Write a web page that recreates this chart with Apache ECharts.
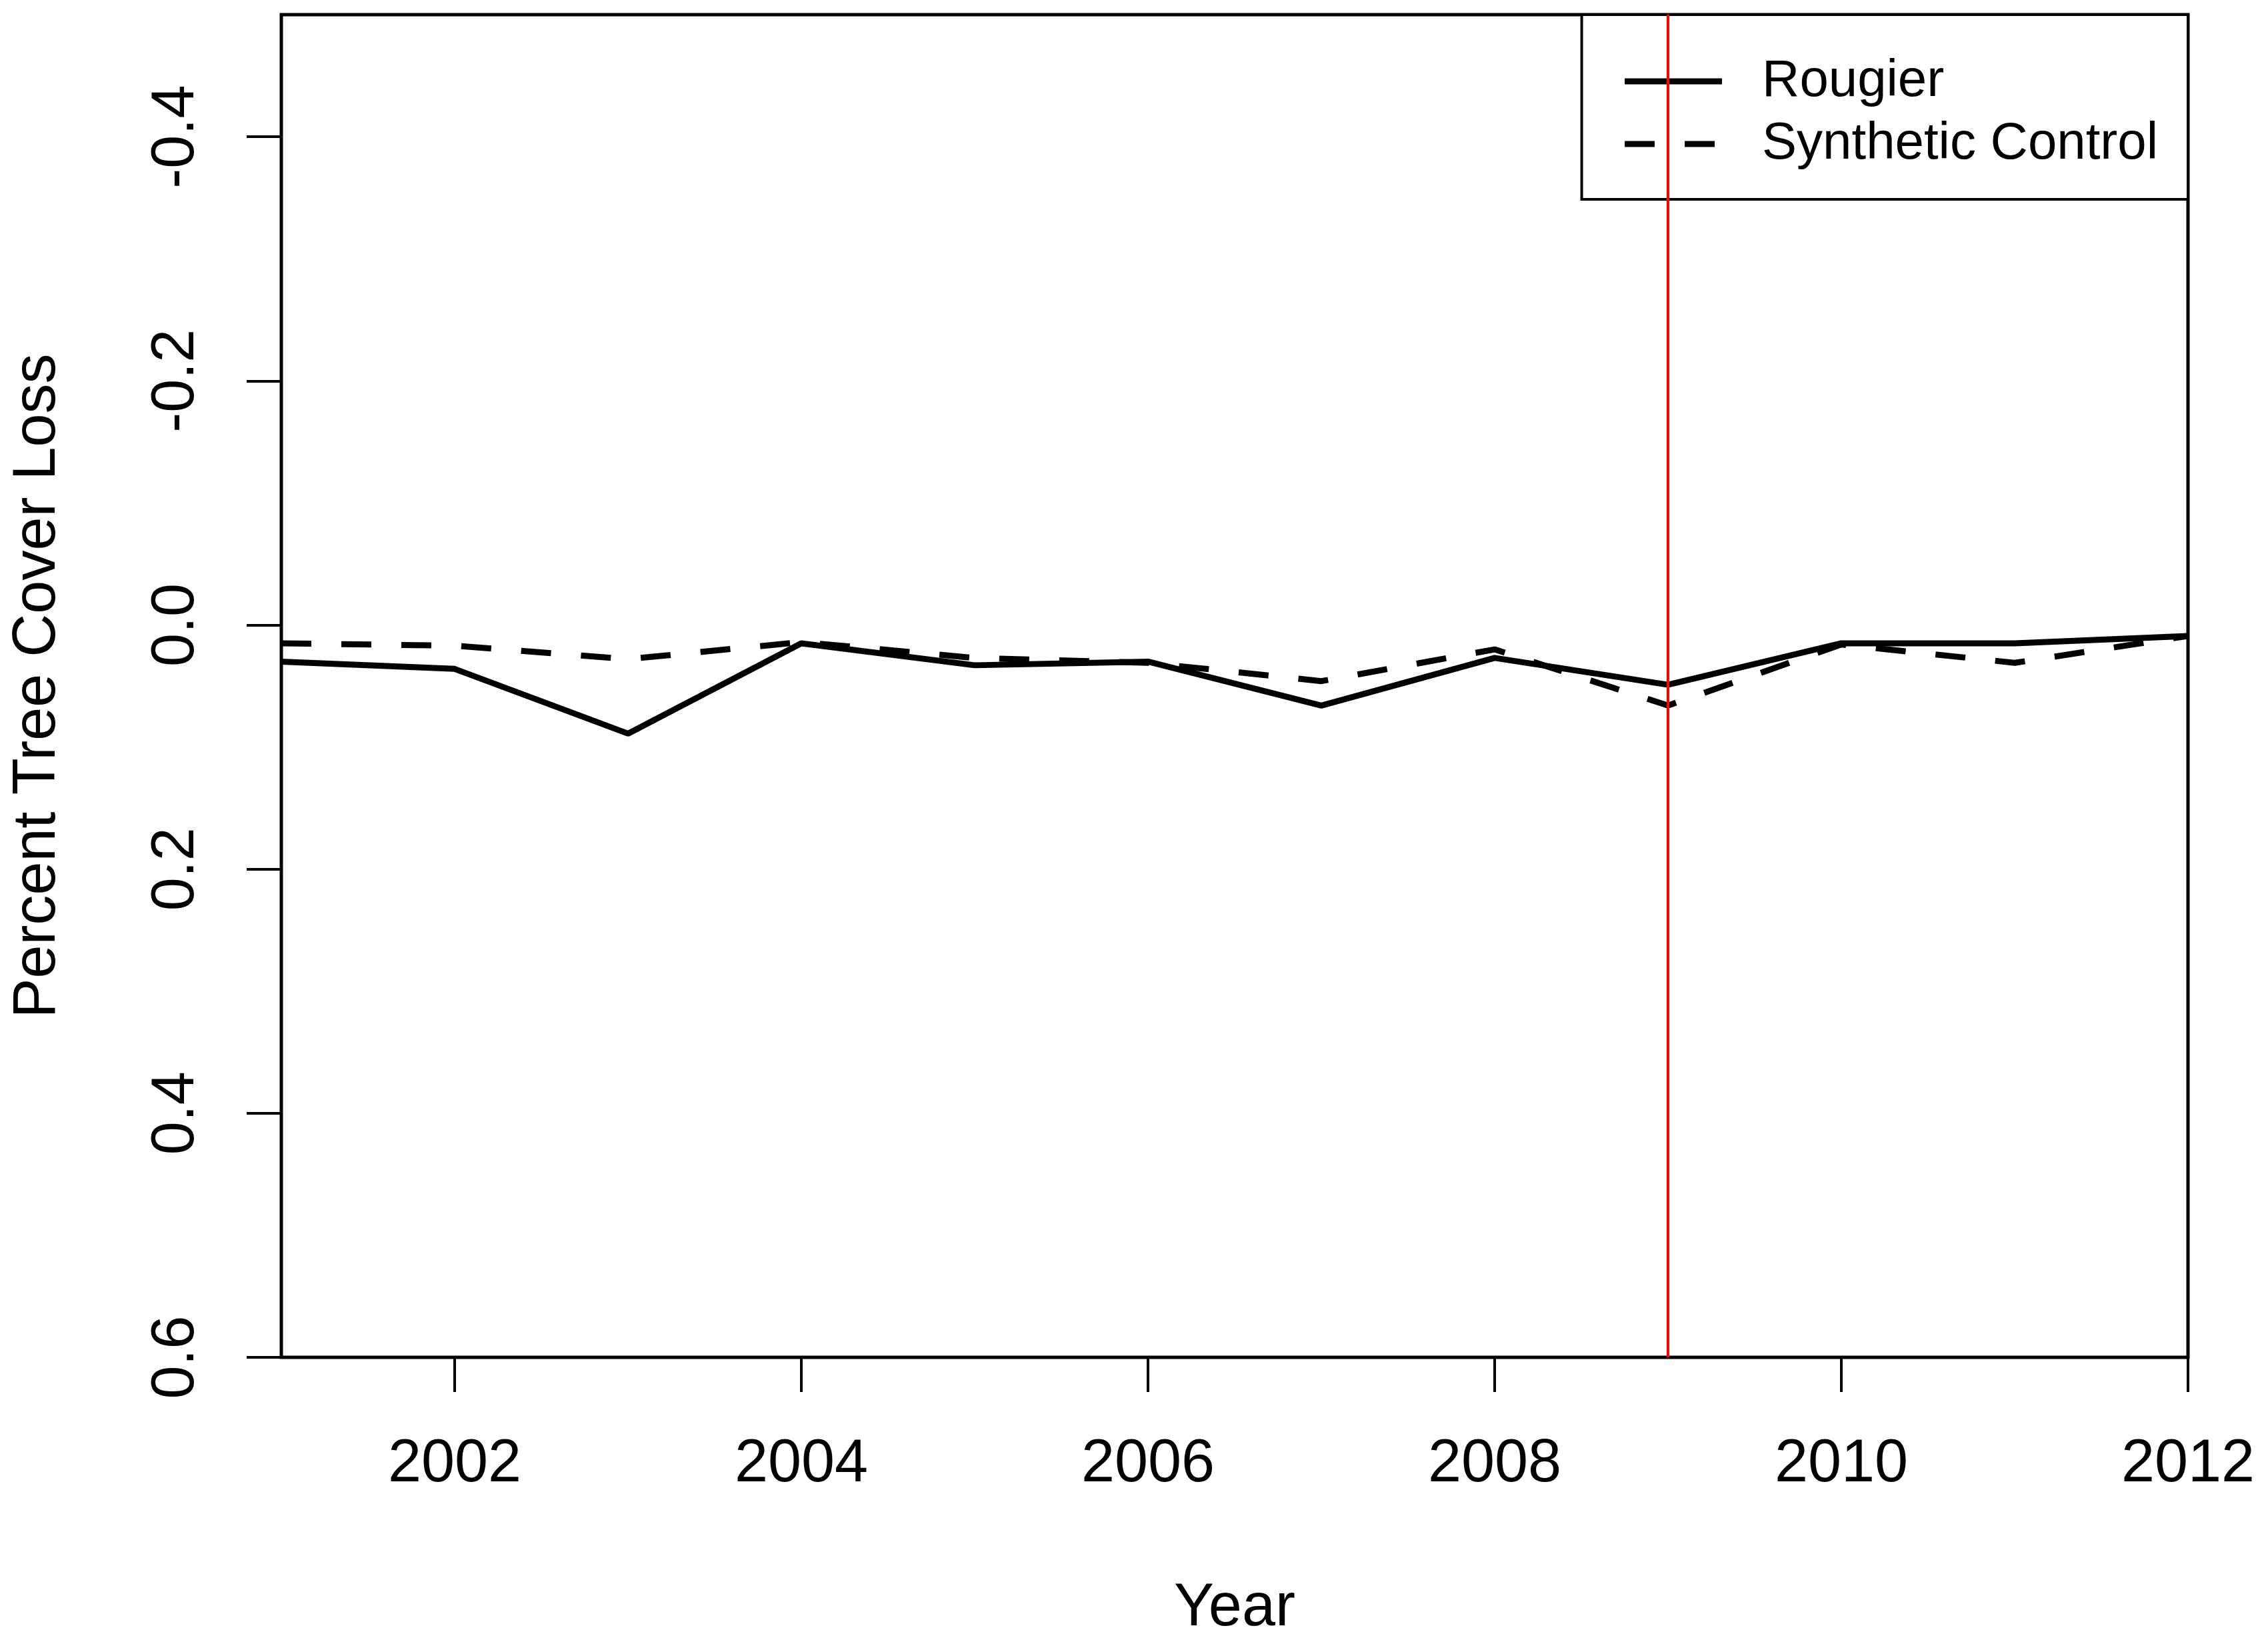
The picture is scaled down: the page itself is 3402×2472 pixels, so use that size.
<!DOCTYPE html>
<html>
<head>
<meta charset="utf-8">
<title>Percent Tree Cover Loss</title>
<script src="https://cdn.jsdelivr.net/npm/echarts@6/dist/echarts.min.js"></script>
<style>
  html, body { margin: 0; padding: 0; background: #fff; }
  #main { width: 3402px; height: 2472px; }
</style>
</head>
<body>
<div id="main"></div>
<script>
// values
var years = [2001, 2002, 2003, 2004, 2005, 2006, 2007, 2008, 2009, 2010, 2011, 2012];
var rougier = [0.030, 0.036, 0.089, 0.015, 0.033, 0.030, 0.066, 0.027, 0.049, 0.015, 0.015, 0.009];
var synthetic = [0.015, 0.017, 0.028, 0.014, 0.027, 0.031, 0.046, 0.020, 0.066, 0.016, 0.031, 0.009];
var xTicks = [2002, 2004, 2006, 2008, 2010, 2012];
var yTicks = [-0.4, -0.2, 0.0, 0.2, 0.4, 0.6];
var yTickLabels = ['-0.4', '-0.2', '0.0', '0.2', '0.4', '0.6'];
var treatYear = 2009;

var font = "'Liberation Sans', Arial, sans-serif";

function pairs(vals) {
  var out = [];
  for (var i = 0; i < years.length; i++) {
    out.push([years[i], vals[i]]);
  }
  return out;
}

var chart = echarts.init(document.getElementById('main'), null, { renderer: 'canvas' });

var option = {
  animation: false,
  backgroundColor: '#ffffff',
  grid: {
    left: 422,
    right: 120,
    top: 22,
    bottom: 436,
    show: true,
    borderColor: '#000',
    borderWidth: 5,
    backgroundColor: 'transparent'
  },
  legend: {
    data: ['Rougier', 'Synthetic Control'],
    orient: 'vertical',
    right: 120,
    top: 22,
    backgroundColor: '#fff',
    borderColor: '#000',
    borderWidth: 4,
    borderRadius: 0,
    padding: [53, 45, 36, 60],
    itemWidth: 146,
    itemHeight: 94,
    itemGap: 0,
    itemStyle: { opacity: 0 },
    lineStyle: { width: 9, type: 'inherit' },
    textStyle: {
      fontFamily: font,
      fontSize: 78,
      color: '#000',
      lineHeight: 94,
      padding: [0, 0, 0, 55]
    }
  },
  xAxis: {
    type: 'value',
    min: 2001,
    max: 2012,
    name: 'Year',
    nameLocation: 'middle',
    nameGap: 332,
    nameTextStyle: { fontFamily: font, fontSize: 90, color: '#000' },
    axisLine: { show: false, onZero: false },
    splitLine: { show: false },
    axisTick: {
      show: true,
      length: 52,
      lineStyle: { color: '#000', width: 4 },
      customValues: xTicks
    },
    axisLabel: {
      fontFamily: font,
      fontSize: 90,
      color: '#000',
      margin: 116,
      customValues: xTicks,
      formatter: function (v) { return String(v); }
    }
  },
  yAxis: {
    type: 'value',
    min: -0.5,
    max: 0.6,
    inverse: true,
    name: 'Percent Tree Cover Loss',
    nameLocation: 'middle',
    nameRotate: 90,
    nameGap: 320,
    nameTextStyle: { fontFamily: font, fontSize: 90, color: '#000' },
    axisLine: { show: false, onZero: false },
    splitLine: { show: false },
    axisTick: {
      show: true,
      length: 52,
      lineStyle: { color: '#000', width: 4 },
      customValues: yTicks
    },
    axisLabel: {
      fontFamily: font,
      fontSize: 90,
      color: '#000',
      rotate: 90,
      margin: 112,
      customValues: yTicks,
      formatter: function (v) {
        var i = yTicks.indexOf(v);
        return i >= 0 ? yTickLabels[i] : v.toFixed(1);
      }
    }
  },
  series: [
    {
      name: 'Rougier',
      type: 'line',
      data: pairs(rougier),
      symbol: 'none',
      z: 3,
      lineStyle: { color: '#000', width: 9, type: 'solid' },
      itemStyle: { color: '#000' }
    },
    {
      name: 'Synthetic Control',
      type: 'line',
      data: pairs(synthetic),
      symbol: 'none',
      z: 3,
      lineStyle: { color: '#000', width: 9, type: [45, 45] },
      itemStyle: { color: '#000' }
    },
    {
      name: 'Treatment',
      type: 'line',
      data: [],
      z: 10,
      markLine: {
        silent: true,
        symbol: ['none', 'none'],
        label: { show: false },
        lineStyle: { color: '#ff0000', width: 4, type: 'solid' },
        data: [{ xAxis: treatYear }]
      }
    }
  ]
};

chart.setOption(option);
</script>
</body>
</html>
